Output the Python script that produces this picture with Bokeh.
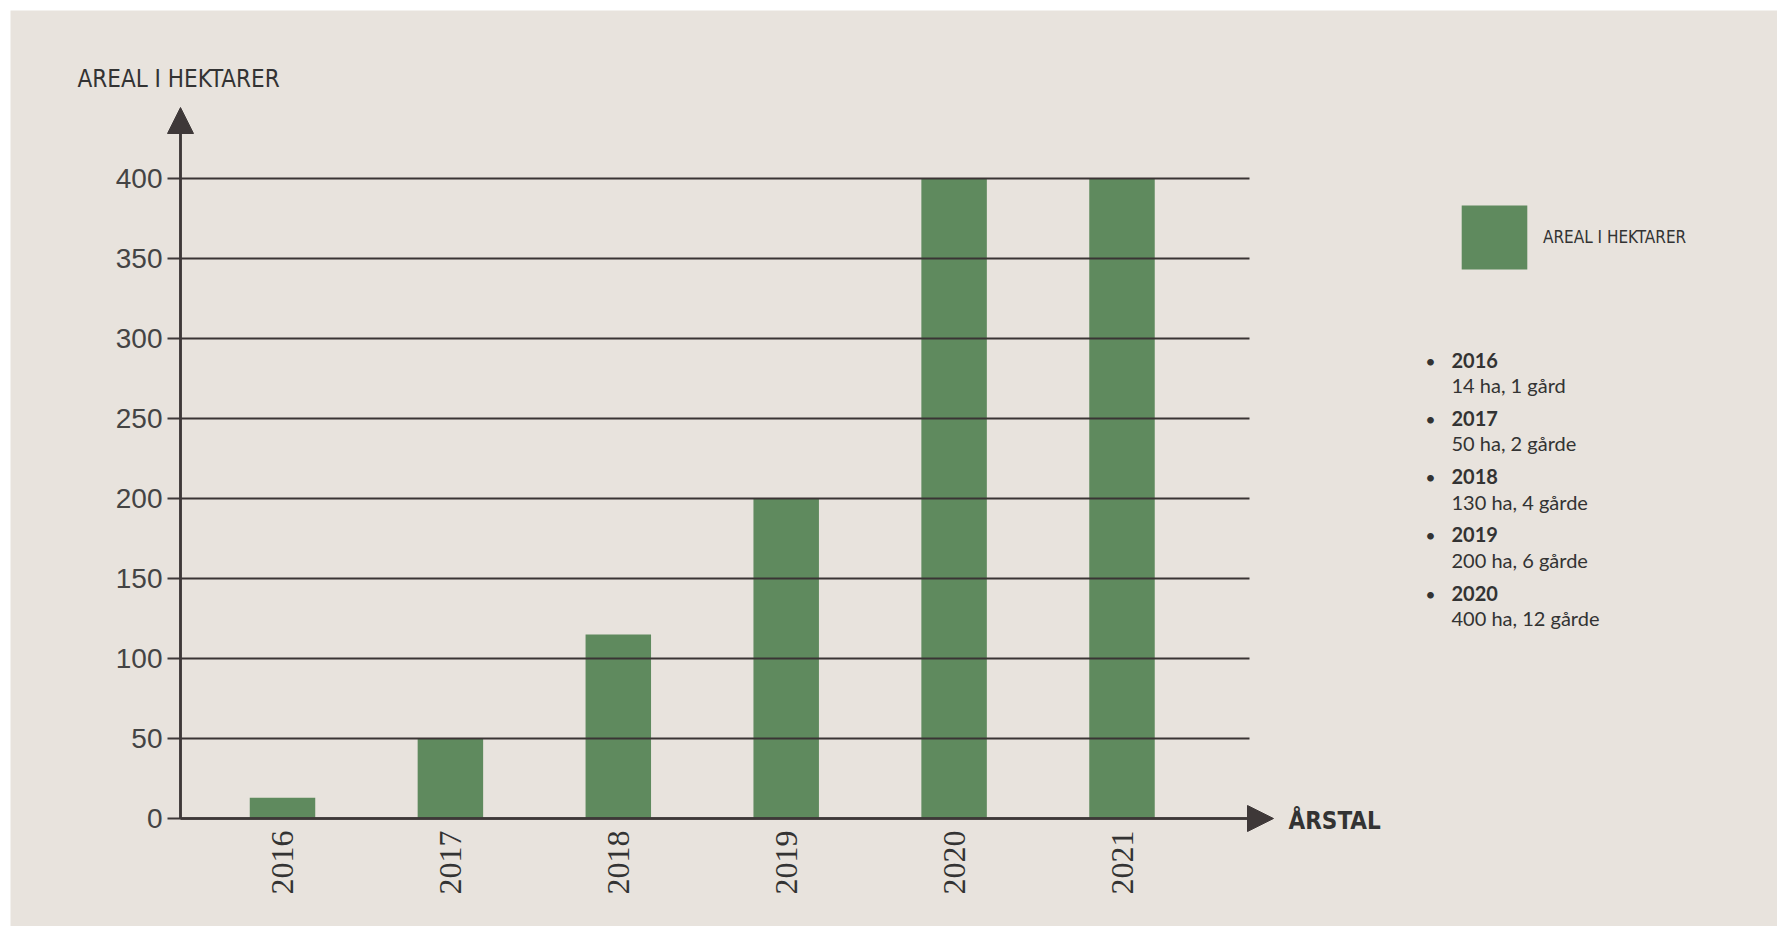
import math
from bokeh.plotting import figure
from bokeh.models import (Range1d, FixedTicker, LabelSet, ColumnDataSource,
                          Arrow, NormalHead, Legend, LegendItem, LinearAxis)
from bokeh.core.properties import value
from bokeh.embed import file_html
from bokeh.resources import INLINE

# ---------------- data ----------------
YEARS = [2016, 2017, 2018, 2019, 2020, 2021]
AREAL = [13, 50, 115, 200, 400, 400]
Y_TICKS = [0, 50, 100, 150, 200, 250, 300, 350, 400]
NOTE_YEARS = ["2016", "2017", "2018", "2019", "2020"]
NOTE_TEXT = ["14 ha, 1 gård", "50 ha, 2 gårde", "130 ha, 4 gårde",
             "200 ha, 6 gårde", "400 ha, 12 gårde"]
Y_TITLE = "AREAL I HEKTARER"
X_TITLE = "ÅRSTAL"
SERIES = "AREAL I HEKTARER"

# ---------------- style / layout ----------------
BG = "#e8e3dd"
BAR = "#5f8a5e"
AX = "#3e3838"
GRID = "#3a3434"
TXT = "#333333"
NARROW = "DejaVu Sans Condensed"

W, H = 1777, 926
FRAME_L, FRAME_T = 10, 10      # white edge left / top
PX_X = 167.9                   # px per year
PX_Y = 1.6                     # px per hectare
X_LO = 2016 - (282 - FRAME_L) / PX_X
X_HI = X_LO + (W - FRAME_L) / PX_X
Y_HI = (818 - FRAME_T) / PX_Y
Y_LO = Y_HI - (H - FRAME_T) / PX_Y


def dx(px):
    return X_LO + (px - FRAME_L) / PX_X


def dy(py):
    return Y_HI - (py - FRAME_T) / PX_Y


AXIS_X = dx(180)
GRID_END = dx(1249)
XARROW_END = dx(1273)
YAXIS_END = dy(133)
YARROW_END = dy(107)

p = figure(width=W, height=H, output_backend="svg", toolbar_location=None,
           x_range=Range1d(X_LO, X_HI), y_range=Range1d(Y_LO, Y_HI),
           x_axis_location=None, y_axis_location=None,
           min_border=0, min_border_left=FRAME_L, min_border_top=FRAME_T)
p.background_fill_color = BG
p.border_fill_color = "white"
p.outline_line_color = None
p.xgrid.visible = False
p.ygrid.visible = False

bars = p.vbar(x=YEARS, top=AREAL, bottom=0, width=0.39, fill_color=BAR, line_color=None)

# grid lines drawn above the bars
gy = Y_TICKS[1:]
p.segment(x0=[AXIS_X] * len(gy), x1=[GRID_END] * len(gy), y0=gy, y1=gy,
          line_color=GRID, line_width=2)

# value axis
ya = LinearAxis(fixed_location=AXIS_X, bounds=(0, YAXIS_END),
                ticker=FixedTicker(ticks=Y_TICKS))
ya.axis_line_color = AX
ya.axis_line_width = 2.5
ya.major_tick_line_color = AX
ya.major_tick_line_width = 2
ya.major_tick_out = 13
ya.major_tick_in = 0
ya.minor_tick_line_color = None
ya.major_label_standoff = 5
ya.major_label_text_font = "Liberation Sans"
ya.major_label_text_font_size = "28px"
ya.major_label_text_color = "#444444"
p.add_layout(ya, "left")

# year axis
xa = LinearAxis(fixed_location=0, bounds=(AXIS_X, GRID_END),
                ticker=FixedTicker(ticks=YEARS))
xa.axis_line_color = AX
xa.axis_line_width = 2.5
xa.major_tick_out = 0
xa.major_tick_in = 0
xa.minor_tick_line_color = None
xa.major_label_orientation = math.pi / 2
xa.major_label_standoff = 12
xa.major_label_text_font = "Liberation Serif"
xa.major_label_text_font_size = "32px"
xa.major_label_text_color = TXT
p.add_layout(xa, "below")

# arrow heads on the axes
p.add_layout(Arrow(end=NormalHead(size=26, fill_color=AX, line_color=AX),
                   x_start=AXIS_X, y_start=0, x_end=AXIS_X, y_end=YARROW_END,
                   line_color=AX, line_width=2.5))
p.add_layout(Arrow(end=NormalHead(size=26, fill_color=AX, line_color=AX),
                   x_start=AXIS_X, y_start=0, x_end=XARROW_END, y_end=0,
                   line_color=AX, line_width=2.5))

# axis titles
ytitle_src = ColumnDataSource(dict(x=[dx(77)], y=[dy(86)], t=[Y_TITLE]))
p.add_layout(LabelSet(x="x", y="y", text="t", source=ytitle_src,
                      text_font=value(NARROW), text_font_size=value("24px"),
                      text_color=TXT, text_baseline="alphabetic"))
xtitle_src = ColumnDataSource(dict(x=[dx(1288)], y=[dy(828)], t=[X_TITLE]))
p.add_layout(LabelSet(x="x", y="y", text="t", source=xtitle_src,
                      text_font=value(NARROW), text_font_size=value("24px"),
                      text_font_style="bold", text_color=TXT,
                      text_baseline="alphabetic"))

# legend
legend = Legend(items=[LegendItem(label=SERIES, renderers=[bars])],
                location=(1453 - FRAME_L, H - 277),
                glyph_width=82, glyph_height=80, label_standoff=8,
                padding=0, margin=0, background_fill_alpha=0, border_line_alpha=0,
                label_text_font=NARROW, label_text_font_size="17px",
                label_text_color=TXT)
p.add_layout(legend)

# notes list
n = len(NOTE_YEARS)
STEP = 58.3
YB = 367
src = ColumnDataSource(dict(
    x=[dx(1451)] * n,
    xb=[dx(1430)] * n,
    y_year=[dy(YB + i * STEP) for i in range(n)],
    y_desc=[dy(YB + 25.5 + i * STEP) for i in range(n)],
    year=NOTE_YEARS, desc=NOTE_TEXT, bullet=["•"] * n))
p.add_layout(LabelSet(x="xb", y="y_year", text="bullet", source=src,
                      text_font=value("Lato"), text_font_size=value("18px"),
                      text_color=TXT, text_align="center", text_baseline="alphabetic"))
p.add_layout(LabelSet(x="x", y="y_year", text="year", source=src,
                      text_font=value("Lato"), text_font_size=value("20px"),
                      text_font_style="bold", text_color=TXT, text_baseline="alphabetic"))
p.add_layout(LabelSet(x="x", y="y_desc", text="desc", source=src,
                      text_font=value("Lato"), text_font_size=value("20px"),
                      text_color=TXT, text_baseline="alphabetic"))

open("out.html", "w").write(file_html(p, INLINE))
